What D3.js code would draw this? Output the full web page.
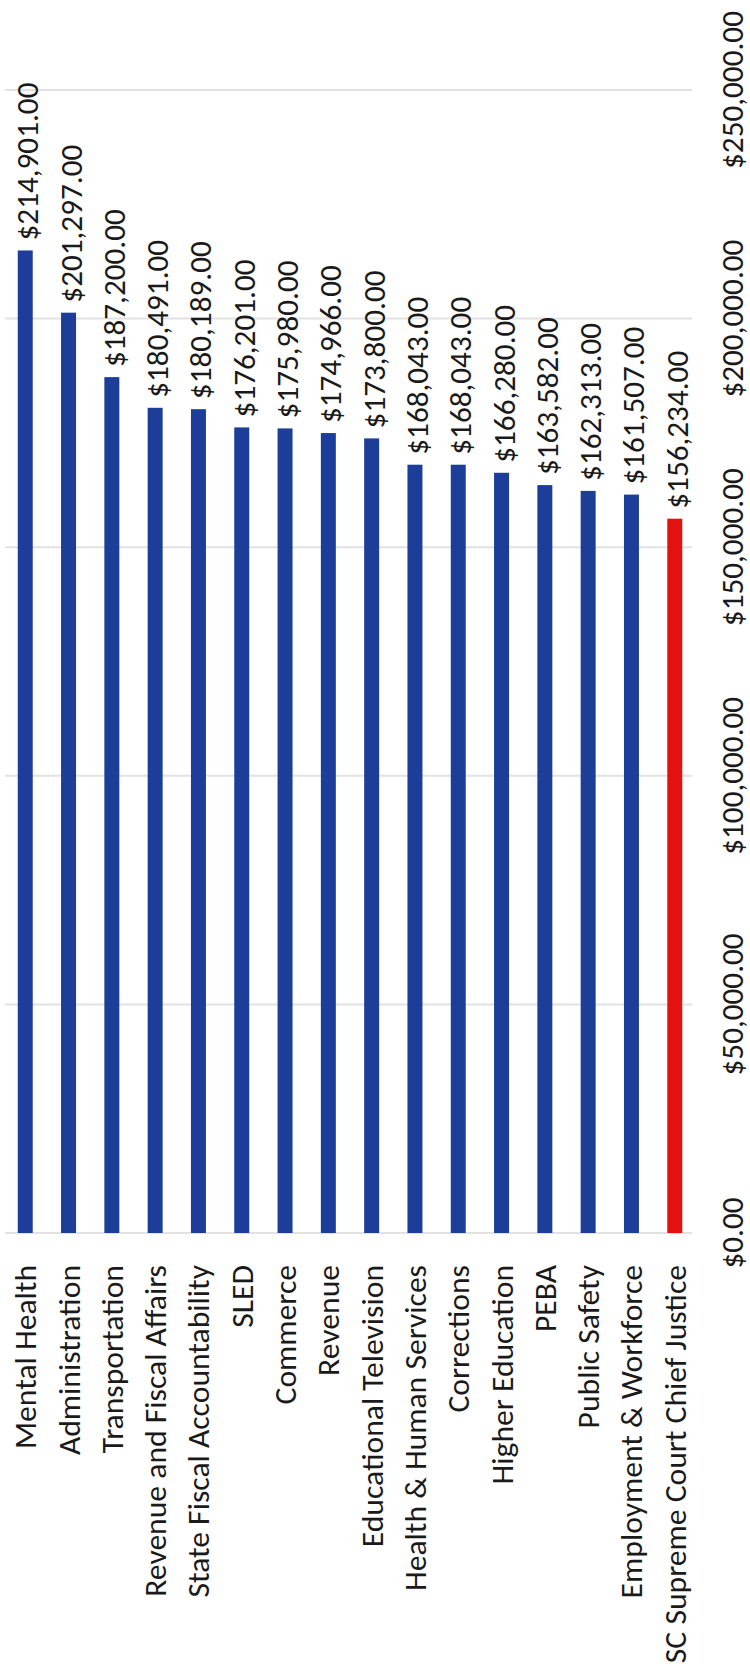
<!DOCTYPE html>
<html><head><meta charset="utf-8">
<script src="https://cdn.jsdelivr.net/npm/d3@7"></script>
<style>html,body{margin:0;padding:0;background:#fff;}svg{display:block;}</style>
</head><body>
<div id="chart"></div>
<script>
const categories = ["Mental Health","Administration","Transportation","Revenue and Fiscal Affairs","State Fiscal Accountability","SLED","Commerce","Revenue","Educational Television","Health & Human Services","Corrections","Higher Education","PEBA","Public Safety","Employment & Workforce","SC Supreme Court Chief Justice"];
const values = [214901,201297,187200,180491,180189,176201,175980,174966,173800,168043,168043,166280,163582,162313,161507,156234];
const highlight = ["SC Supreme Court Chief Justice"];
const ticks = [0,50000,100000,150000,200000,250000];

const W = 750, H = 1679;
const FONT = "Carlito, Calibri, Lato, 'Open Sans', sans-serif";
const svg = d3.select("#chart").append("svg").attr("width", W).attr("height", H);

const x = d3.scaleBand().domain(categories).range([0, 700]).paddingInner(0.654).paddingOuter(0.41);
const y = d3.scaleLinear().domain([0, 250000]).range([1233, 90]);
const fmt = v => "$" + d3.format(",.2f")(v);

// fit font size to measured lengths
function fit(str, target){
  const t = svg.append("text").attr("font-family", FONT).attr("font-size", 100).text(str);
  const w = t.node().getComputedTextLength(); t.remove();
  return 100 * target / w;
}
const tickFs = fit("$250,000.00", 158);
const catFs = fit("Revenue and Fiscal Affairs", 332);

// gridlines
svg.append("g").selectAll("line").data(ticks).join("line")
  .attr("x1", 5).attr("x2", 692)
  .attr("y1", d => y(d)).attr("y2", d => y(d))
  .attr("stroke", "#e2e2e2").attr("stroke-width", 2);

// tick labels (rotated)
svg.append("g").selectAll("text").data(ticks).join("text")
  .attr("transform", d => `translate(732,${y(d)}) rotate(-90)`)
  .attr("text-anchor", "middle").attr("dominant-baseline", "central")
  .attr("font-family", FONT).attr("font-size", tickFs).attr("fill", "#1a1a1a")
  .text(d => fmt(d));

// bars
svg.append("g").selectAll("rect").data(categories).join("rect")
  .attr("x", d => x(d)).attr("width", x.bandwidth())
  .attr("y", (d,i) => y(values[i])).attr("height", (d,i) => y(0) - y(values[i]))
  .attr("fill", d => highlight.includes(d) ? "#e3120f" : "#1d3e98");

// value labels
svg.append("g").selectAll("text").data(categories).join("text")
  .attr("transform", (d,i) => `translate(${x(d) + x.bandwidth()/2 + 2},${y(values[i]) - 10}) rotate(-90)`)
  .attr("text-anchor", "start").attr("dominant-baseline", "central")
  .attr("font-family", FONT).attr("font-size", tickFs).attr("fill", "#1a1a1a")
  .text((d,i) => fmt(values[i]));

// category labels
svg.append("g").selectAll("text").data(categories).join("text")
  .attr("transform", d => `translate(${x(d) + x.bandwidth()/2},1265) rotate(-90)`)
  .attr("text-anchor", "end").attr("dominant-baseline", "central")
  .attr("font-family", FONT).attr("font-size", catFs).attr("fill", "#1a1a1a")
  .text(d => d);
</script>
</body></html>
